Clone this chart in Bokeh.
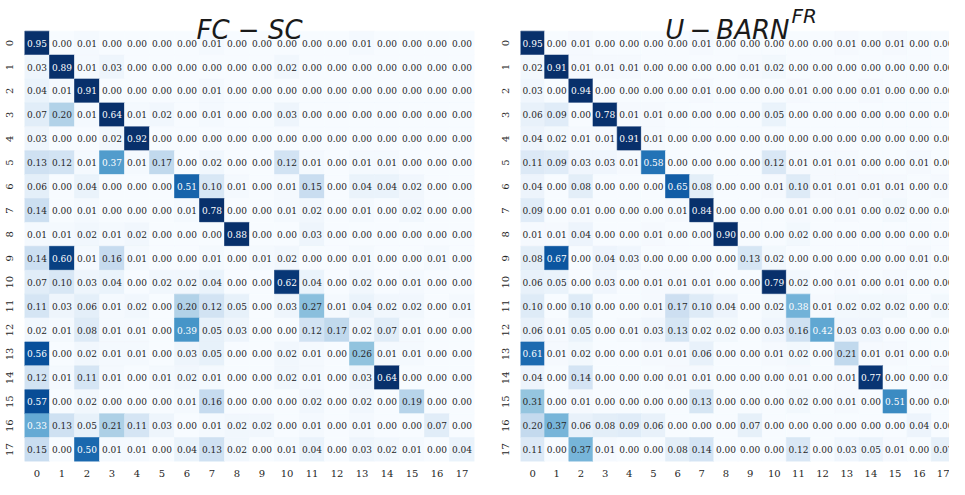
import numpy as np
from bokeh.plotting import figure
from bokeh.models import ColumnDataSource, Range1d, FixedTicker
from bokeh.layouts import row
from bokeh.palettes import Blues256
from bokeh.core.properties import value
from bokeh.embed import file_html
from bokeh.resources import INLINE

class_labels = [str(i) for i in range(18)]

fc_sc = [
    [0.95, 0.00, 0.01, 0.00, 0.00, 0.00, 0.00, 0.01, 0.00, 0.00, 0.00, 0.00, 0.00, 0.01, 0.00, 0.00, 0.00, 0.00],
    [0.03, 0.89, 0.01, 0.03, 0.00, 0.00, 0.00, 0.00, 0.00, 0.00, 0.02, 0.00, 0.00, 0.00, 0.00, 0.00, 0.00, 0.00],
    [0.04, 0.01, 0.91, 0.00, 0.00, 0.00, 0.00, 0.01, 0.00, 0.00, 0.00, 0.00, 0.00, 0.00, 0.00, 0.00, 0.00, 0.00],
    [0.07, 0.20, 0.01, 0.64, 0.01, 0.02, 0.00, 0.01, 0.00, 0.00, 0.03, 0.00, 0.00, 0.00, 0.00, 0.00, 0.00, 0.00],
    [0.03, 0.00, 0.00, 0.02, 0.92, 0.00, 0.00, 0.00, 0.00, 0.00, 0.00, 0.00, 0.00, 0.00, 0.00, 0.00, 0.00, 0.00],
    [0.13, 0.12, 0.01, 0.37, 0.01, 0.17, 0.00, 0.02, 0.00, 0.00, 0.12, 0.01, 0.00, 0.01, 0.01, 0.00, 0.00, 0.00],
    [0.06, 0.00, 0.04, 0.00, 0.00, 0.00, 0.51, 0.10, 0.01, 0.00, 0.01, 0.15, 0.00, 0.04, 0.04, 0.02, 0.00, 0.00],
    [0.14, 0.00, 0.01, 0.00, 0.00, 0.00, 0.01, 0.78, 0.00, 0.00, 0.01, 0.02, 0.00, 0.01, 0.00, 0.02, 0.00, 0.00],
    [0.01, 0.01, 0.02, 0.01, 0.02, 0.00, 0.00, 0.00, 0.88, 0.00, 0.00, 0.03, 0.00, 0.00, 0.00, 0.00, 0.00, 0.00],
    [0.14, 0.60, 0.01, 0.16, 0.01, 0.00, 0.00, 0.01, 0.00, 0.01, 0.02, 0.00, 0.00, 0.01, 0.00, 0.00, 0.01, 0.00],
    [0.07, 0.10, 0.03, 0.04, 0.00, 0.02, 0.02, 0.04, 0.00, 0.00, 0.62, 0.04, 0.00, 0.02, 0.00, 0.01, 0.00, 0.00],
    [0.11, 0.03, 0.06, 0.01, 0.02, 0.00, 0.20, 0.12, 0.05, 0.00, 0.03, 0.27, 0.01, 0.04, 0.02, 0.02, 0.00, 0.01],
    [0.02, 0.01, 0.08, 0.01, 0.01, 0.00, 0.39, 0.05, 0.03, 0.00, 0.00, 0.12, 0.17, 0.02, 0.07, 0.01, 0.00, 0.00],
    [0.56, 0.00, 0.02, 0.01, 0.01, 0.00, 0.03, 0.05, 0.00, 0.00, 0.02, 0.01, 0.00, 0.26, 0.01, 0.01, 0.00, 0.00],
    [0.12, 0.01, 0.11, 0.01, 0.00, 0.01, 0.02, 0.01, 0.00, 0.00, 0.02, 0.01, 0.00, 0.03, 0.64, 0.00, 0.00, 0.00],
    [0.57, 0.00, 0.02, 0.00, 0.00, 0.00, 0.01, 0.16, 0.00, 0.00, 0.00, 0.02, 0.00, 0.02, 0.00, 0.19, 0.00, 0.00],
    [0.33, 0.13, 0.05, 0.21, 0.11, 0.03, 0.00, 0.01, 0.02, 0.02, 0.00, 0.01, 0.00, 0.01, 0.00, 0.00, 0.07, 0.00],
    [0.15, 0.00, 0.50, 0.01, 0.01, 0.00, 0.04, 0.13, 0.02, 0.00, 0.01, 0.04, 0.00, 0.03, 0.02, 0.01, 0.00, 0.04],
]

u_barn_fr = [
    [0.95, 0.00, 0.01, 0.00, 0.00, 0.00, 0.00, 0.01, 0.00, 0.00, 0.00, 0.00, 0.00, 0.01, 0.00, 0.01, 0.00, 0.00],
    [0.02, 0.91, 0.01, 0.01, 0.01, 0.00, 0.00, 0.00, 0.00, 0.01, 0.02, 0.00, 0.00, 0.00, 0.00, 0.00, 0.00, 0.00],
    [0.03, 0.00, 0.94, 0.00, 0.00, 0.00, 0.00, 0.01, 0.00, 0.00, 0.00, 0.01, 0.00, 0.00, 0.01, 0.00, 0.00, 0.00],
    [0.06, 0.09, 0.00, 0.78, 0.01, 0.01, 0.00, 0.00, 0.00, 0.00, 0.05, 0.00, 0.00, 0.00, 0.00, 0.00, 0.00, 0.00],
    [0.04, 0.02, 0.01, 0.01, 0.91, 0.01, 0.00, 0.00, 0.00, 0.00, 0.00, 0.00, 0.00, 0.00, 0.00, 0.00, 0.00, 0.00],
    [0.11, 0.09, 0.03, 0.03, 0.01, 0.58, 0.00, 0.00, 0.00, 0.00, 0.12, 0.01, 0.01, 0.01, 0.00, 0.00, 0.01, 0.00],
    [0.04, 0.00, 0.08, 0.00, 0.00, 0.00, 0.65, 0.08, 0.00, 0.00, 0.01, 0.10, 0.01, 0.01, 0.01, 0.01, 0.00, 0.01],
    [0.09, 0.00, 0.01, 0.00, 0.00, 0.00, 0.01, 0.84, 0.00, 0.00, 0.00, 0.01, 0.00, 0.01, 0.00, 0.02, 0.00, 0.00],
    [0.01, 0.01, 0.04, 0.00, 0.00, 0.01, 0.00, 0.00, 0.90, 0.00, 0.00, 0.02, 0.00, 0.00, 0.00, 0.00, 0.00, 0.00],
    [0.08, 0.67, 0.00, 0.04, 0.03, 0.00, 0.00, 0.00, 0.00, 0.13, 0.02, 0.00, 0.00, 0.00, 0.00, 0.00, 0.01, 0.00],
    [0.06, 0.05, 0.00, 0.03, 0.00, 0.01, 0.01, 0.01, 0.00, 0.00, 0.79, 0.02, 0.00, 0.01, 0.00, 0.01, 0.00, 0.00],
    [0.10, 0.00, 0.10, 0.00, 0.00, 0.01, 0.17, 0.10, 0.04, 0.00, 0.02, 0.38, 0.01, 0.02, 0.02, 0.02, 0.00, 0.02],
    [0.06, 0.01, 0.05, 0.00, 0.01, 0.03, 0.13, 0.02, 0.02, 0.00, 0.03, 0.16, 0.42, 0.03, 0.03, 0.00, 0.00, 0.00],
    [0.61, 0.01, 0.02, 0.00, 0.00, 0.01, 0.01, 0.06, 0.00, 0.00, 0.01, 0.02, 0.00, 0.21, 0.01, 0.01, 0.00, 0.00],
    [0.04, 0.00, 0.14, 0.00, 0.00, 0.00, 0.01, 0.01, 0.00, 0.00, 0.00, 0.01, 0.00, 0.01, 0.77, 0.00, 0.00, 0.01],
    [0.31, 0.00, 0.01, 0.00, 0.00, 0.00, 0.00, 0.13, 0.00, 0.00, 0.00, 0.02, 0.00, 0.01, 0.00, 0.51, 0.00, 0.00],
    [0.20, 0.37, 0.06, 0.08, 0.09, 0.06, 0.00, 0.00, 0.00, 0.07, 0.00, 0.00, 0.00, 0.00, 0.00, 0.00, 0.04, 0.00],
    [0.11, 0.00, 0.37, 0.01, 0.00, 0.00, 0.08, 0.14, 0.00, 0.00, 0.00, 0.12, 0.00, 0.03, 0.05, 0.01, 0.00, 0.07],
]

palette = list(reversed(Blues256))  # light -> dark


def hex_to_rgb(h):
    h = h.lstrip("#")
    return [int(h[i:i + 2], 16) / 255.0 for i in (0, 2, 4)]


def rel_lum(h):
    out = []
    for c in hex_to_rgb(h):
        out.append(c / 12.92 if c <= 0.03928 else ((c + 0.055) / 1.055) ** 2.4)
    return 0.2126 * out[0] + 0.7152 * out[1] + 0.0722 * out[2]


def build_source(M):
    arr = np.array(M, dtype=float)
    vmin = np.percentile(arr, 2)
    vmax = np.percentile(arr, 98)
    xs, ys, vals, txt, fills, tcols = [], [], [], [], [], []
    n = arr.shape[0]
    for r in range(n):
        for c in range(n):
            v = arr[r, c]
            t = (v - vmin) / (vmax - vmin)
            idx = int(np.clip(np.floor(t * 256), 0, 255))
            col = palette[idx]
            xs.append(c + 0.5)
            ys.append(r + 0.5)
            vals.append(v)
            txt.append(f"{v:.2f}")
            fills.append(col)
            tcols.append("#262626" if rel_lum(col) > 0.408 else "#ffffff")
    return ColumnDataSource(dict(x=xs, y=ys, v=vals, txt=txt, fill=fills, tcol=tcols))


# geometry in figure pixels (total 949 x 479 so the page fits the window)
FIG_H = 479
MAT_TOP = 31           # y of first row top
MAT_BOT = 466          # y of last row bottom
ROW_PX = (MAT_BOT - MAT_TOP) / 18
TOP_EXTRA = MAT_TOP / ROW_PX


def make_fig(M, width, left, right, xend):
    p = figure(width=width, height=FIG_H, x_range=Range1d(0, xend),
               y_range=Range1d(18, -TOP_EXTRA), output_backend="svg",
               toolbar_location=None, min_border_left=left, min_border_right=right,
               min_border_top=0, min_border_bottom=FIG_H - MAT_BOT)
    src = build_source(M)
    p.rect(x="x", y="y", width=1, height=1, source=src, fill_color="fill",
           line_color="fill", line_width=0.6)
    p.text(x="x", y="y", text="txt", source=src, text_align="center",
           text_baseline="middle", text_font=value("DejaVu Serif"),
           text_font_size="9px", text_color="tcol")
    ticks = [i + 0.5 for i in range(18)]
    overrides = {t: class_labels[i] for i, t in enumerate(ticks)}
    for ax in (p.xaxis[0], p.yaxis[0]):
        ax.ticker = FixedTicker(ticks=ticks)
        ax.major_label_overrides = overrides
        ax.axis_line_color = None
        ax.major_tick_line_color = None
        ax.minor_tick_line_color = None
        ax.major_label_text_font = "DejaVu Serif"
        ax.major_label_text_font_size = "10px"
        ax.major_label_text_color = "#262626"
    p.xaxis.major_label_standoff = 2
    p.yaxis.major_label_standoff = 5
    p.yaxis.major_label_orientation = "vertical"
    p.xgrid.visible = False
    p.ygrid.visible = False
    p.outline_line_color = None
    p.background_fill_color = "white"
    p.border_fill_color = "white"
    return p


p1 = make_fig(fc_sc, 496, 24, 22, 18)
p1.text(x=[9.0], y=[(30 - MAT_TOP) / ROW_PX], text=["FC − SC"], text_align="center",
        text_baseline="alphabetic", text_font=value("DejaVu Sans"),
        text_font_style="italic", text_font_size="26px", text_color="#1a1a1a")

R_XEND = 17.75
R_LEFT = 24
R_W = 949 - 496
R_CELL = (R_W - R_LEFT) / R_XEND
p2 = make_fig(u_barn_fr, R_W, R_LEFT, 0, R_XEND)
p2.text(x=[(789 - 520) / R_CELL], y=[(30 - MAT_TOP) / ROW_PX], text=["U\u2009−\u2009BARN"],
        text_align="right", text_baseline="alphabetic", text_font=value("DejaVu Sans"),
        text_font_style="italic", text_font_size="26px", text_color="#1a1a1a")
p2.text(x=[(791 - 520) / R_CELL], y=[(16 - MAT_TOP) / ROW_PX], text=["FR"], text_align="left",
        text_baseline="alphabetic", text_font=value("DejaVu Sans"),
        text_font_style="italic", text_font_size="20px", text_color="#1a1a1a")

layout = row(p1, p2)
open("out.html", "w").write(file_html(layout, INLINE))
